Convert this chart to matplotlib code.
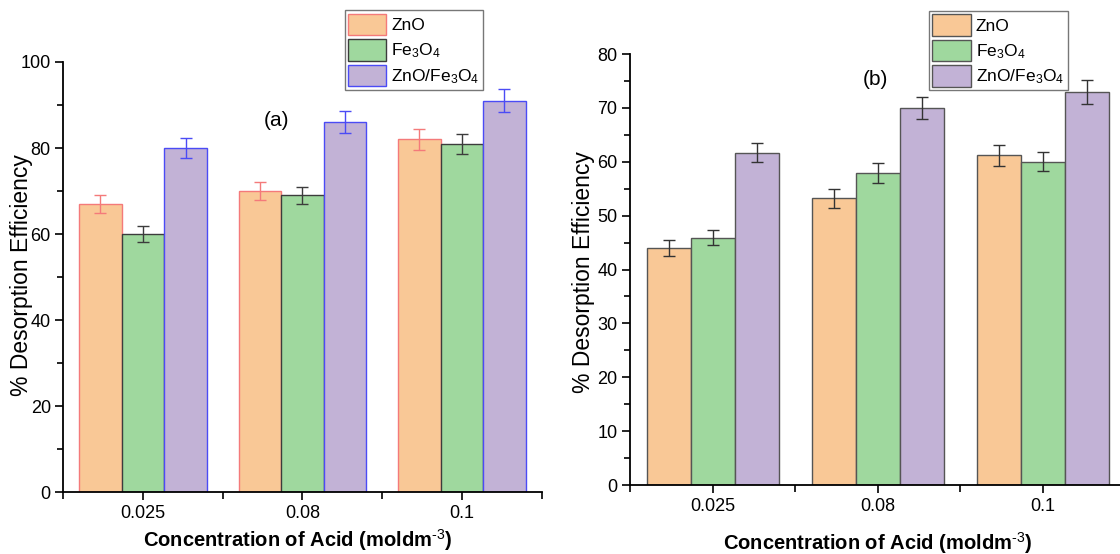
import numpy as np
import matplotlib
matplotlib.use("Agg")
from matplotlib import pyplot as plt
from matplotlib.ticker import MultipleLocator, FixedLocator

plt.rcParams['font.family'] = ['Liberation Sans', 'DejaVu Sans']
plt.rcParams['mathtext.fontset'] = 'custom'
plt.rcParams['mathtext.rm'] = 'Liberation Sans'
plt.rcParams['mathtext.default'] = 'regular'

conc = ['0.025', '0.08', '0.1']
series = ['ZnO', 'Fe$_3$O$_4$', 'ZnO/Fe$_3$O$_4$']

# (a)
zno_a = [67, 70, 82]
fe_a = [60, 69, 81]
comp_a = [80, 86, 91]
zno_a_err = [2.0, 2.0, 2.4]
fe_a_err = [1.8, 2.0, 2.3]
comp_a_err = [2.4, 2.5, 2.7]

# (b)
zno_b = [44, 53.2, 61.2]
fe_b = [45.9, 57.9, 60.0]
comp_b = [61.7, 70.0, 72.9]
zno_b_err = [1.5, 1.7, 1.9]
fe_b_err = [1.4, 1.8, 1.8]
comp_b_err = [1.8, 2.1, 2.2]

faces = ['#f9c896', '#9fd89e', '#c2b2d6']
edges_a = ['#f47a7a', '#3c3c3c', '#4b4bf5']
edges_b = ['#555555', '#555555', '#555555']
err_b = ['#333333', '#333333', '#333333']


def draw_panel(ax, data, errs, edges, ecolors, ymax, major, tag, tag_xy, leg_anchor):
    x = np.arange(len(conc))
    w = 0.8 / 3
    handles = []
    for i, (vals, err) in enumerate(zip(data, errs)):
        b = ax.bar(x + (i - 1) * w, vals, w, color=faces[i], edgecolor=edges[i],
                   linewidth=1.0, label=series[i], zorder=2)
        ax.errorbar(x + (i - 1) * w, vals, yerr=err, fmt='none', ecolor=ecolors[i],
                    elinewidth=1.0, capsize=4, capthick=1.0, zorder=3)
        handles.append(b)
    ax.set_xlim(-0.5, 2.5)
    ax.set_ylim(0, ymax)
    ax.set_xticks(x)
    ax.set_xticklabels(conc)
    ax.xaxis.set_minor_locator(FixedLocator([-0.5, 0.5, 1.5, 2.5]))
    ax.yaxis.set_major_locator(MultipleLocator(major))
    ax.yaxis.set_minor_locator(MultipleLocator(major / 2))
    for s in ['top', 'right']:
        ax.spines[s].set_visible(False)
    for s in ['left', 'bottom']:
        ax.spines[s].set_linewidth(1.3)
    ax.tick_params(which='major', direction='out', length=6, width=1.2, labelsize=13, pad=3)
    ax.tick_params(which='minor', direction='out', length=4, width=1.2)
    ax.tick_params(axis='x', which='minor', length=5)
    ax.set_xlabel(r'Concentration of Acid (moldm$^{\text{-3}}$)', fontsize=14.5, fontweight='bold')
    ax.set_ylabel('% Desorption Efficiency', fontsize=16.5, va='center')
    ax.text(tag_xy[0], tag_xy[1], tag, fontsize=15, ha='center', va='center',
            transform=ax.transAxes)
    leg = ax.legend(handles=handles, loc='upper left', bbox_to_anchor=leg_anchor,
                    fontsize=12.5, frameon=True, fancybox=False, borderpad=0.2,
                    handlelength=2.2, handleheight=1.5, handletextpad=0.3,
                    labelspacing=0.25, borderaxespad=0)
    leg.get_frame().set_edgecolor('#555555')
    leg.get_frame().set_linewidth(1.0)
    return ax


fig = plt.figure(figsize=(11.2, 5.54), dpi=100)

ax1 = fig.add_axes([0.0565, 0.1114, 0.4271, 0.7767])
draw_panel(ax1, [zno_a, fe_a, comp_a], [zno_a_err, fe_a_err, comp_a_err],
           edges_a, edges_a, 100, 20, '(a)', (0.446, 0.863), (0.588, 1.12))
ax1.xaxis.set_label_coords(0.49, -0.112)
ax1.xaxis.label.set_va('center')
ax1.yaxis.set_label_coords(-0.088, 0.505)

ax2 = fig.add_axes([0.5625, 0.1245, 0.442, 0.778])
draw_panel(ax2, [zno_b, fe_b, comp_b], [zno_b_err, fe_b_err, comp_b_err],
           edges_b, err_b, 80, 10, '(b)', (0.495, 0.942), (0.604, 1.1))
ax2.xaxis.set_label_coords(0.501, -0.135)
ax2.xaxis.label.set_va('center')
ax2.yaxis.set_label_coords(-0.094, 0.494)

fig.savefig('out.png', dpi=100)
